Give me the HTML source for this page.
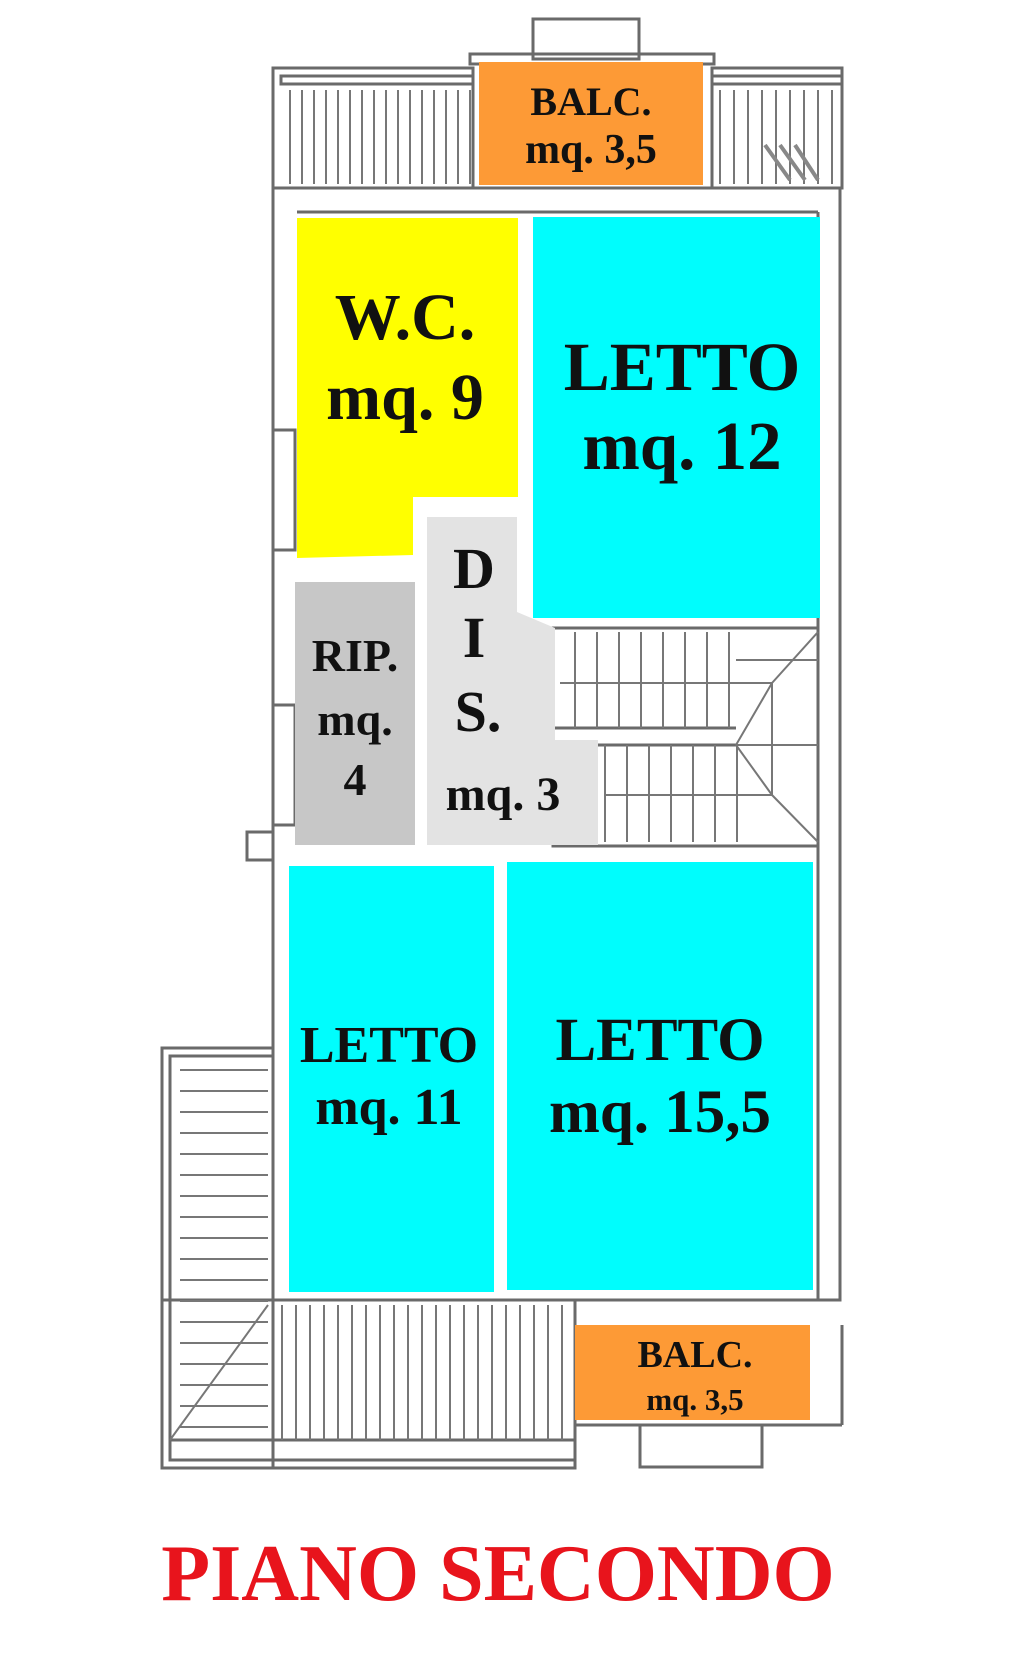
<!DOCTYPE html>
<html><head><meta charset="utf-8"><style>
html,body{margin:0;padding:0;background:#fff;}
svg{display:block;}
text{font-family:"Liberation Serif",serif;font-weight:bold;fill:#111;text-anchor:middle;}
</style></head><body>
<svg width="1024" height="1657" viewBox="0 0 1024 1657" xmlns="http://www.w3.org/2000/svg">
<g fill="none" stroke="#6a6a6a" stroke-width="3">
  <!-- top bump -->
  <rect x="533" y="19" width="106" height="40"/>
  <rect x="470" y="54" width="244" height="10"/>
  <!-- top bands -->
  <rect x="273" y="68" width="200" height="120"/>
  <rect x="281" y="76" width="192" height="8"/>
  <rect x="712" y="68" width="130" height="120"/>
  <rect x="712" y="76" width="130" height="8"/>
  <!-- outer building -->
  <rect x="273" y="188" width="567" height="1112"/>
  <line x1="297" y1="212" x2="818" y2="212"/>
  <line x1="818" y1="212" x2="818" y2="1300"/>
  <!-- left stair block -->
  <rect x="162" y="1048" width="111" height="420"/>
  <rect x="170" y="1056" width="103" height="404"/>
  <!-- bottom band -->
  <rect x="162" y="1300" width="413" height="168"/>
  <rect x="170" y="1440" width="405" height="20"/>
  <rect x="640" y="1425" width="122" height="42"/>
  <line x1="575" y1="1425" x2="842" y2="1425"/>
  <line x1="842" y1="1325" x2="842" y2="1425"/>
  <!-- stairs box -->
  <rect x="553" y="628" width="265" height="218"/>
  <line x1="553" y1="728" x2="736" y2="728"/>
  <line x1="553" y1="745" x2="736" y2="745"/>
  <!-- small wall details -->
  <rect x="247" y="832" width="26" height="28"/>
  <rect x="273" y="705" width="22" height="120"/>
  <rect x="273" y="430" width="22" height="120"/>
</g>
<g stroke="#777" stroke-width="2">
  <!-- top-left hatch -->
  <path d="M290 90V184M302 90V184M314 90V184M326 90V184M338 90V184M350 90V184M362 90V184M374 90V184M386 90V184M398 90V184M410 90V184M422 90V184M434 90V184M446 90V184M458 90V184M470 90V184"/>
  <path d="M720 90V184M734 90V184M748 90V184M762 90V184M776 90V184M790 90V184M804 90V184M818 90V184M832 90V184"/>
  <path d="M765 145L790 180M780 145L805 180M795 145L818 180" stroke-width="4" stroke="#888"/>
  <!-- left stairs hatch -->
  <path d="M180 1070H268M180 1091H268M180 1112H268M180 1133H268M180 1154H268M180 1175H268M180 1196H268M180 1217H268M180 1238H268M180 1259H268M180 1280H268M180 1301H268M180 1322H268M180 1343H268M180 1364H268M180 1385H268M180 1406H268M180 1427H268"/>
  <line x1="170" y1="1440" x2="268" y2="1305"/>
  <!-- bottom band hatch -->
  <path d="M282 1305V1440M296 1305V1440M310 1305V1440M324 1305V1440M338 1305V1440M352 1305V1440M366 1305V1440M380 1305V1440M394 1305V1440M408 1305V1440M422 1305V1440M436 1305V1440M450 1305V1440M464 1305V1440M478 1305V1440M492 1305V1440M506 1305V1440M520 1305V1440M534 1305V1440M548 1305V1440M562 1305V1440"/>
  <!-- stair treads -->
  <path d="M575 632V728M597 632V728M619 632V728M641 632V728M663 632V728M685 632V728M707 632V728M729 632V728"/>
  <path d="M605 745V842M627 745V842M649 745V842M671 745V842M693 745V842M715 745V842M737 745V842"/>
  <path d="M560 683H772M605 795H772M736 660H818M736 745H818M772 683V795M818 632L772 683M736 745L772 795M772 795L818 842M736 745L772 683"/>
</g>
<!-- rooms -->
<rect x="479" y="62" width="224" height="123" fill="#fd9a36"/>
<polygon points="297,218 518,218 518,497 413,497 413,555 297,558" fill="#ffff00"/>
<rect x="533" y="217" width="287" height="401" fill="#00fdfd"/>
<polygon points="427,517 517,517 517,612 555,628 555,740 598,740 598,845 427,845" fill="#e3e3e3"/>
<rect x="295" y="582" width="120" height="263" fill="#c7c7c7"/>
<rect x="289" y="866" width="205" height="426" fill="#00fdfd"/>
<rect x="507" y="862" width="306" height="428" fill="#00fdfd"/>
<rect x="575" y="1325" width="235" height="95" fill="#fd9a36"/>
<!-- labels -->
<text x="591" y="115" font-size="40">BALC.</text>
<text x="591" y="163" font-size="42">mq. 3,5</text>
<text x="405" y="339" font-size="66">W.C.</text>
<text x="405" y="419" font-size="66">mq. 9</text>
<text x="682" y="390" font-size="69">LETTO</text>
<text x="682" y="469" font-size="69">mq. 12</text>
<text x="474" y="588" font-size="58">D</text>
<text x="474" y="657" font-size="58">I</text>
<text x="478" y="731" font-size="58">S.</text>
<text x="503" y="810" font-size="48">mq. 3</text>
<text x="355" y="671" font-size="46">RIP.</text>
<text x="355" y="735" font-size="46">mq.</text>
<text x="355" y="795" font-size="46">4</text>
<text x="389" y="1062" font-size="52">LETTO</text>
<text x="389" y="1124" font-size="52">mq. 11</text>
<text x="660" y="1060" font-size="61">LETTO</text>
<text x="660" y="1132" font-size="61">mq. 15,5</text>
<text x="695" y="1367" font-size="38">BALC.</text>
<text x="695" y="1410" font-size="31">mq. 3,5</text>
<text x="498" y="1600" font-size="80" style="fill:#e8141c">PIANO SECONDO</text>
</svg>
</body></html>
